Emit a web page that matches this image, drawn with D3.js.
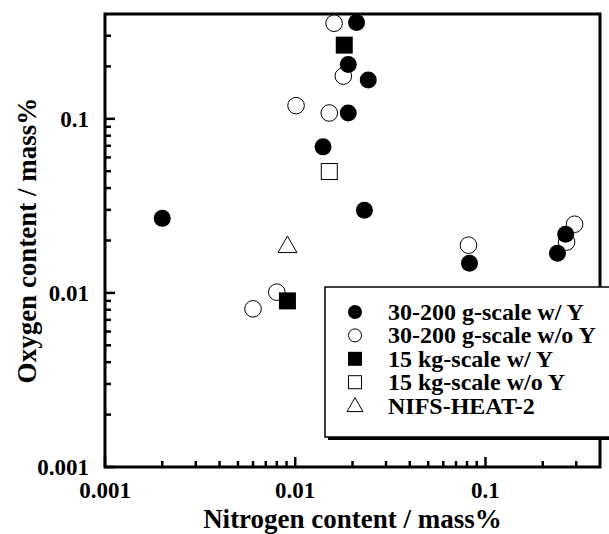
<!DOCTYPE html>
<html><head><meta charset="utf-8">
<script src="https://cdn.jsdelivr.net/npm/d3@7"></script>
<style>body{margin:0;background:#fff}svg{display:block}text{font-family:"Liberation Serif","Times New Roman",serif;font-weight:bold;fill:#000}</style>
</head><body><div id="chart"></div>
<script>
// Data: [nitrogen mass%, oxygen mass%]
const filledCircles = [[0.0210,0.358],[0.0190,0.205],[0.0242,0.167],[0.0190,0.108],[0.0140,0.069],[0.0231,0.0298],[0.0020,0.0268],[0.0824,0.0148],[0.239,0.0169],[0.264,0.0217]];
const openCircles = [[0.0160,0.354],[0.0179,0.176],[0.0101,0.119],[0.0151,0.108],[0.0814,0.0188],[0.294,0.0248],[0.267,0.0196],[0.0080,0.0101],[0.0060,0.0081]];
const filledSquares = [[0.0181,0.265],[0.0091,0.0090]];
const openSquares = [[0.0151,0.0498]];
const triangles = [[0.0091,0.0186]];
const legendLabels = ["30-200 g-scale w/ Y","30-200 g-scale w/o Y","15 kg-scale w/ Y","15 kg-scale w/o Y","NIFS-HEAT-2"];
const majorTicks = [0.001,0.01,0.1];
const tickLabels = ["0.001","0.01","0.1"];
const minorTicks = [0.002,0.003,0.004,0.005,0.006,0.007,0.008,0.009,0.02,0.03,0.04,0.05,0.06,0.07,0.08,0.09,0.2,0.3];
const xTitle = "Nitrogen content / mass%";
const yTitle = "Oxygen content / mass%";

const W=609,H=534;
const L=105,R=600,T=14,B=467;
const svg=d3.select("#chart").append("svg").attr("width",W).attr("height",H);
const x=d3.scaleLog().domain([0.001,0.4]).range([L,R]);
const y=d3.scaleLog().domain([0.001,0.4]).range([B,T]);

// ticks (inside)
const g=svg.append("g");
majorTicks.forEach((v,i)=>{
  g.append("line").attr("x1",x(v)).attr("x2",x(v)).attr("y1",B).attr("y2",B-10).attr("stroke","#000").attr("stroke-width",2.5);
  g.append("line").attr("y1",y(v)).attr("y2",y(v)).attr("x1",L).attr("x2",L+10).attr("stroke","#000").attr("stroke-width",2.5);
  g.append("text").attr("x",x(v)).attr("y",B+31).attr("text-anchor","middle").attr("font-size",23).text(tickLabels[i]);
  g.append("text").attr("x",L-16).attr("y",y(v)+8).attr("text-anchor","end").attr("font-size",23).text(tickLabels[i]);
});
minorTicks.forEach(v=>{
  g.append("line").attr("x1",x(v)).attr("x2",x(v)).attr("y1",B).attr("y2",B-6).attr("stroke","#000").attr("stroke-width",2.5);
  g.append("line").attr("y1",y(v)).attr("y2",y(v)).attr("x1",L).attr("x2",L+6).attr("stroke","#000").attr("stroke-width",2.5);
});
svg.append("rect").attr("x",L).attr("y",T).attr("width",R-L).attr("height",B-T).attr("fill","none").attr("stroke","#000").attr("stroke-width",3);

svg.append("text").attr("x",(L+R)/2).attr("y",528).attr("text-anchor","middle").attr("font-size",27).text(xTitle);
svg.append("text").attr("transform",`translate(36,${(T+B)/2}) rotate(-90)`).attr("text-anchor","middle").attr("font-size",27).text(yTitle);

// markers
function circle(sel,data,fill,r){sel.selectAll(null).data(data).enter().append("circle").attr("cx",d=>x(d[0])).attr("cy",d=>y(d[1])).attr("r",r).attr("fill",fill?"#000":"#fff").attr("stroke","#000").attr("stroke-width",fill?0:1);}
function square(sel,data,fill,s){sel.selectAll(null).data(data).enter().append("rect").attr("x",d=>x(d[0])-s/2).attr("y",d=>y(d[1])-s/2).attr("width",s).attr("height",s).attr("fill",fill?"#000":"#fff").attr("stroke","#000").attr("stroke-width",fill?0:1);}
function tri(sel,data,s){sel.selectAll(null).data(data).enter().append("path").attr("d",d=>{const cx=x(d[0]),cy=y(d[1]),h=s*0.866;return `M${cx},${cy-h*0.6}L${cx+s/2},${cy+h*0.4}L${cx-s/2},${cy+h*0.4}Z`;}).attr("fill","#fff").attr("stroke","#000").attr("stroke-width",1);}
const m=svg.append("g");
circle(m,openCircles,false,8.3);
circle(m,filledCircles,true,8.5);
square(m,filledSquares,true,17);
square(m,openSquares,false,16);
tri(m,triangles,19);

// legend
const lg=svg.append("g");
lg.append("rect").attr("x",328).attr("y",290).attr("width",300).attr("height",150).attr("fill","#000");
lg.append("rect").attr("x",325).attr("y",287).attr("width",300).attr("height",150).attr("fill","#fff").attr("stroke","#000").attr("stroke-width",1.5);
const rowY=i=>312+i*23.4;
const sx=355;
lg.append("circle").attr("cx",sx).attr("cy",rowY(0)).attr("r",7).attr("fill","#000");
lg.append("circle").attr("cx",sx).attr("cy",rowY(1)).attr("r",6.5).attr("fill","#fff").attr("stroke","#000").attr("stroke-width",1);
lg.append("rect").attr("x",sx-7).attr("y",rowY(2)-7).attr("width",14).attr("height",14).attr("fill","#000");
lg.append("rect").attr("x",sx-6.5).attr("y",rowY(3)-6.5).attr("width",13).attr("height",13).attr("fill","#fff").attr("stroke","#000").attr("stroke-width",1);
lg.append("path").attr("d",`M${sx},${rowY(4)-8}L${sx+8},${rowY(4)+6}L${sx-8},${rowY(4)+6}Z`).attr("fill","#fff").attr("stroke","#000").attr("stroke-width",1);
legendLabels.forEach((t,i)=>lg.append("text").attr("x",388).attr("y",rowY(i)+8).attr("font-size",24).text(t));
</script></body></html>
